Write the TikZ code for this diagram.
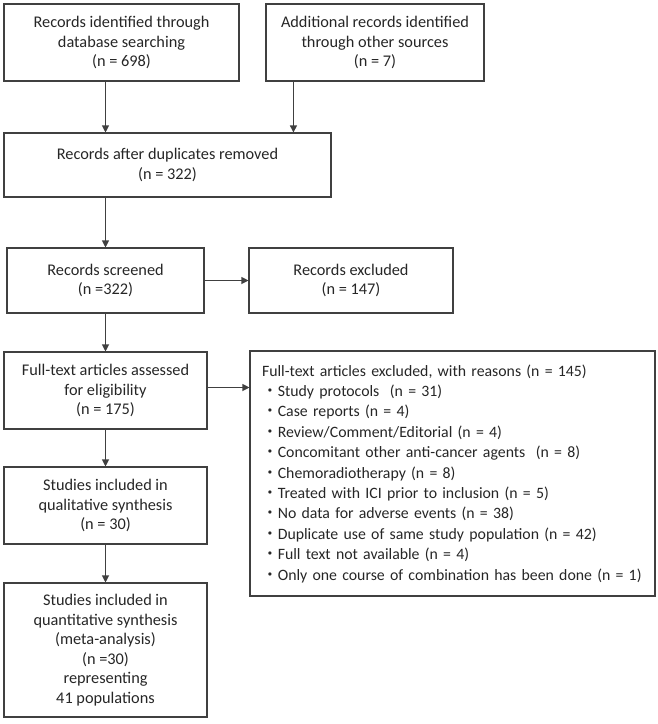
\documentclass[tikz,border=0pt]{standalone}
\usepackage{fontspec}
\setmainfont{Carlito}
\newfontfamily\cjk{Noto Sans CJK JP}
\usetikzlibrary{arrows.meta,calc}
\definecolor{lc}{HTML}{404040}
\begin{document}
\begin{tikzpicture}[x=1pt,y=-1pt,
  box/.style={draw=lc,line width=1.1pt,rectangle,inner sep=2pt,align=center,
    font=\fontsize{16.3}{19.5}\selectfont,text=black!85},
  arr/.style={draw=lc,line width=1.1pt,-{Triangle[length=7pt,width=7pt]}}]
\useasboundingbox (0,0) rectangle (658,724);
\node[box,minimum width=235pt,minimum height=77pt] (A) at (121.5,42.5)
  {Records identified through\\database searching\\(n = 698)};
\node[box,minimum width=218pt,minimum height=77pt] (B) at (375,42.5)
  {Additional records identified\\through other sources\\(n = 7)};
\node[box,minimum width=327pt,minimum height=64pt] (C) at (167.5,165)
  {Records after duplicates removed\\(n = 322)};
\node[box,minimum width=197pt,minimum height=65pt] (D) at (105.5,280.5)
  {Records screened\\(n =322)};
\node[box,minimum width=204pt,minimum height=65pt] (E) at (351,280.5)
  {Records excluded\\(n = 147)};
\node[box,minimum width=203pt,minimum height=77pt] (F) at (105.5,390.5)
  {Full-text articles assessed\\for eligibility\\(n = 175)};
\node[box,minimum width=405pt,minimum height=245pt,align=left,
  font=\fontsize{15.8}{20.4}\selectfont,text width=381pt,inner xsep=12pt] (G) at (452.5,473.5)
  {Full-text articles excluded, with reasons (n = 145)\\
   {\cjk ・}Study protocols~~(n = 31)\\
   {\cjk ・}Case reports (n = 4)\\
   {\cjk ・}Review/Comment/Editorial (n = 4)\\
   {\cjk ・}Concomitant other anti-cancer agents~~(n = 8)\\
   {\cjk ・}Chemoradiotherapy (n = 8)\\
   {\cjk ・}Treated with ICI prior to inclusion (n = 5)\\
   {\cjk ・}No data for adverse events (n = 38)\\
   {\cjk ・}Duplicate use of same study population (n = 42)\\
   {\cjk ・}Full text not available (n = 4)\\
   \mbox{{\cjk ・}Only one course of combination has been done (n = 1)}};
\node[box,minimum width=203pt,minimum height=77pt] (H) at (105.5,505.5)
  {Studies included in\\qualitative synthesis\\(n = 30)};
\node[box,minimum width=203pt,minimum height=134pt] (I) at (105.5,650)
  {Studies included in\\quantitative synthesis\\(meta-analysis)\\(n =30)\\representing\\41 populations};
\coordinate (a1) at (A.south -| D.north);
\coordinate (b1) at ($(B.south west)+(28,0)$);
\coordinate (f1) at ($(F.east)+(0,-3)$);
\draw[arr] (a1) -- (a1 |- C.north);
\draw[arr] (b1) -- (b1 |- C.north);
\draw[arr] (C.south -| D.north) -- (D.north);
\draw[arr] (D.east) -- (E.west);
\draw[arr] (D.south) -- (F.north);
\draw[arr] (f1) -- (f1 -| G.west);
\draw[arr] (F.south) -- (H.north);
\draw[arr] (H.south) -- (I.north);
\end{tikzpicture}
\end{document}
